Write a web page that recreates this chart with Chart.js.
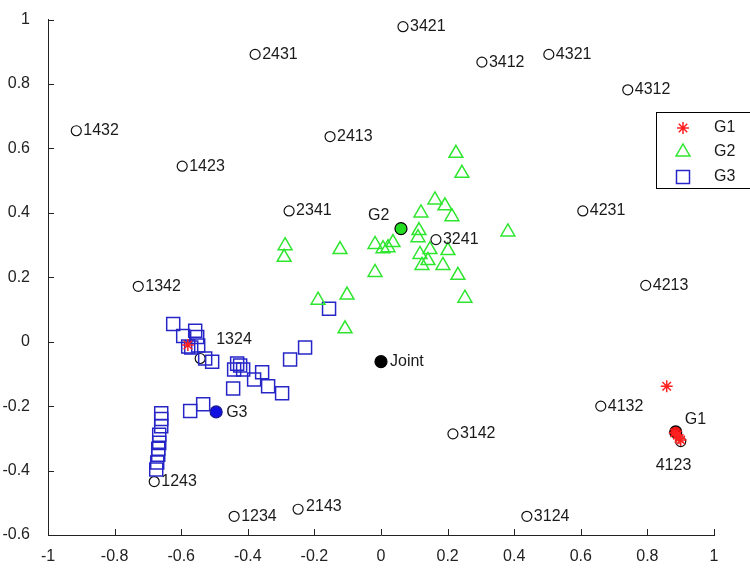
<!DOCTYPE html>
<html>
<head>
<meta charset="utf-8">
<script src="https://cdn.jsdelivr.net/npm/chart.js@4.4.1/dist/chart.umd.min.js"></script>
<style>
html,body{margin:0;padding:0;background:#fff;}
#wrap{width:750px;height:570px;position:relative;}
</style>
</head>
<body>
<div id="wrap"><canvas id="c" width="750" height="570"></canvas></div>
<script>
// ---- data ----
const xTicks = [-1, -0.8, -0.6, -0.4, -0.2, 0, 0.2, 0.4, 0.6, 0.8, 1];
const yTicks = [-0.6, -0.4, -0.2, 0, 0.2, 0.4, 0.6, 0.8, 1];

const permNames = ['3421','2431','3412','4321','4312','1432','1423','2413','2341','3241','4231','4213','1342','1324','4132','4123','3142','1243','1234','2143','3124'];
const permX = [0.066,-0.378,0.303,0.504,0.741,-0.915,-0.597,-0.153,-0.276,0.165,0.606,0.795,-0.729,-0.543,0.66,0.9,0.216,-0.681,-0.441,-0.249,0.438];
const permY = [0.978,0.892,0.868,0.892,0.782,0.655,0.545,0.637,0.406,0.317,0.406,0.175,0.172,-0.052,-0.2,-0.31,-0.286,-0.434,-0.542,-0.52,-0.542];

const centroidNames = ['Joint','G1','G2','G3'];
const centroidX = [0, 0.885, 0.06, -0.495];
const centroidY = [-0.062, -0.28, 0.351, -0.218];

const g1X = [0.858, 0.89, 0.895, 0.882, 0.9, -0.58];
const g1Y = [-0.138, -0.29, -0.3, -0.283, -0.305, -0.01];

const g2X = [0.225,0.243,0.162,0.192,0.120,0.213,0.381,0.114,0.111,0.021,0.036,-0.018,0.147,0.201,0.117,0.141,0.123,0.186,0.231,0.252,-0.288,-0.291,-0.123,-0.018,-0.189,-0.102,-0.108,0.006];
const g2Y = [0.585,0.523,0.440,0.422,0.400,0.388,0.341,0.345,0.323,0.292,0.308,0.302,0.286,0.283,0.271,0.252,0.237,0.237,0.206,0.135,0.298,0.262,0.286,0.215,0.129,0.145,0.040,0.289];

const g3X = [-0.624,-0.558,-0.552,-0.594,-0.579,-0.570,-0.549,-0.528,-0.507,-0.432,-0.423,-0.441,-0.414,-0.357,-0.381,-0.339,-0.297,-0.444,-0.273,-0.228,-0.156,-0.573,-0.534,-0.660,-0.660,-0.660,-0.666,-0.666,-0.669,-0.669,-0.672,-0.675];
const g3Y = [0.055,0.034,0.015,0.018,-0.015,-0.018,-0.012,-0.052,-0.062,-0.068,-0.074,-0.086,-0.086,-0.095,-0.117,-0.138,-0.160,-0.145,-0.055,-0.018,0.102,-0.215,-0.194,-0.222,-0.240,-0.262,-0.289,-0.314,-0.332,-0.351,-0.375,-0.397];

const legendLabels = ['G1','G2','G3'];

// ---- styles ----
const RED = '#ff2020', GREEN = '#2ee62e', BLUE = '#2626c8';
const FONT = '16px "Liberation Sans", Arial, sans-serif';
// label offsets (px) for special cases; default is right of point
const labelOffsets = {'1324':[16,-19], '4123':[-25,24], '2143':[8,-3], 'Joint':[9,0], 'G1':[9,-12], 'G2':[-33,-13], 'G3':[10,1]};

const pts = (xs, ys) => xs.map((x, i) => ({x: x, y: ys[i]}));

const labelPlugin = {
  id: 'labels',
  afterDatasetsDraw(chart) {
    const ctx = chart.ctx, xs = chart.scales.x, ys = chart.scales.y;
    ctx.save();
    ctx.font = FONT;
    ctx.fillStyle = '#1a1a1a';
    ctx.textAlign = 'left';
    ctx.textBaseline = 'middle';
    const draw = (name, x, y) => {
      const off = labelOffsets[name] || [7, 0];
      ctx.fillText(name, xs.getPixelForValue(x) + off[0], ys.getPixelForValue(y) + off[1]);
    };
    permNames.forEach((n, i) => draw(n, permX[i], permY[i]));
    centroidNames.forEach((n, i) => draw(n, centroidX[i], centroidY[i]));
    ctx.restore();
  },
  afterDraw(chart) {
    const ctx = chart.ctx, xs = chart.scales.x, ys = chart.scales.y, a = chart.chartArea;
    ctx.save();
    ctx.strokeStyle = '#222';
    ctx.lineWidth = 1;
    // inward ticks
    ctx.beginPath();
    xTicks.forEach(v => { const p = Math.round(xs.getPixelForValue(v)) + 0.5; ctx.moveTo(p, a.bottom); ctx.lineTo(p, a.bottom - 6); });
    yTicks.forEach(v => { const p = Math.round(ys.getPixelForValue(v)) + 0.5; ctx.moveTo(a.left, p); ctx.lineTo(a.left + 6, p); });
    ctx.stroke();
    // legend box
    const lx = 656.5, ly = 112.5, lw = 100, lh = 76;
    ctx.fillStyle = '#fff';
    ctx.fillRect(lx, ly, lw, lh);
    ctx.strokeStyle = '#000';
    ctx.strokeRect(lx, ly, lw, lh);
    const mx = 683, rowsY = [128, 152, 177];
    // G1 star
    ctx.strokeStyle = RED; ctx.lineWidth = 1.5;
    ctx.beginPath();
    let r = 6;
    ctx.moveTo(mx - r, rowsY[0]); ctx.lineTo(mx + r, rowsY[0]);
    ctx.moveTo(mx, rowsY[0] - r); ctx.lineTo(mx, rowsY[0] + r);
    const d = r * 0.707;
    ctx.moveTo(mx - d, rowsY[0] - d); ctx.lineTo(mx + d, rowsY[0] + d);
    ctx.moveTo(mx - d, rowsY[0] + d); ctx.lineTo(mx + d, rowsY[0] - d);
    ctx.stroke();
    // G2 triangle
    ctx.strokeStyle = GREEN;
    r = 8;
    ctx.beginPath();
    ctx.moveTo(mx, rowsY[1] - r);
    ctx.lineTo(mx + r * 0.866, rowsY[1] + r * 0.5);
    ctx.lineTo(mx - r * 0.866, rowsY[1] + r * 0.5);
    ctx.closePath();
    ctx.stroke();
    // G3 square
    ctx.strokeStyle = BLUE;
    ctx.strokeRect(mx - 6.5, rowsY[2] - 6.5, 13, 13);
    ctx.font = FONT;
    ctx.fillStyle = '#1a1a1a';
    ctx.textBaseline = 'middle';
    legendLabels.forEach((t, i) => ctx.fillText(t, 714, rowsY[i]));
    ctx.restore();
  }
};

new Chart(document.getElementById('c'), {
  type: 'scatter',
  data: {
    datasets: [
      {label: 'G1', data: pts(g1X, g1Y), pointStyle: 'star', radius: 6, borderColor: RED, backgroundColor: RED, borderWidth: 1.5},
      {label: 'G2', data: pts(g2X, g2Y), pointStyle: 'triangle', radius: 8, borderColor: GREEN, backgroundColor: 'rgba(0,0,0,0)', borderWidth: 1.5},
      {label: 'G3', data: pts(g3X, g3Y), pointStyle: 'rect', radius: 9.2, borderColor: BLUE, backgroundColor: 'rgba(0,0,0,0)', borderWidth: 1.5},
      {label: 'perm', data: pts(permX, permY), pointStyle: 'circle', radius: 5, borderColor: '#111', backgroundColor: 'rgba(0,0,0,0)', borderWidth: 1.2},
      {label: 'centroids', data: pts(centroidX, centroidY), pointStyle: 'circle', radius: 6,
        borderColor: ['#000','#000','#000','#1a1a90'],
        backgroundColor: ['#000','#e01010','#22dd22','#1010e0'], borderWidth: 1.2}
    ]
  },
  options: {
    responsive: false,
    animation: false,
    layout: {padding: {top: 15, right: 36, left: 0, bottom: 0}},
    plugins: {legend: {display: false}, tooltip: {enabled: false}},
    scales: {
      x: {
        type: 'linear', min: -1, max: 1,
        afterBuildTicks: s => { s.ticks = xTicks.map(v => ({value: v})); },
        afterFit: s => { s.height = 35; },
        grid: {display: false},
        border: {display: true, color: '#222', width: 1},
        ticks: {color: '#222', font: {family: '"Liberation Sans", Arial, sans-serif', size: 16}, padding: 4, maxRotation: 0,
          callback: v => String(Math.round(v * 10) / 10)}
      },
      y: {
        type: 'linear', min: -0.6, max: 1,
        afterBuildTicks: s => { s.ticks = yTicks.map(v => ({value: v})); },
        afterFit: s => { s.width = 48; },
        grid: {display: false},
        border: {display: true, color: '#222', width: 1},
        ticks: {color: '#222', font: {family: '"Liberation Sans", Arial, sans-serif', size: 16}, padding: 10,
          callback: v => String(Math.round(v * 10) / 10)}
      }
    }
  },
  plugins: [labelPlugin]
});
</script>
</body>
</html>
